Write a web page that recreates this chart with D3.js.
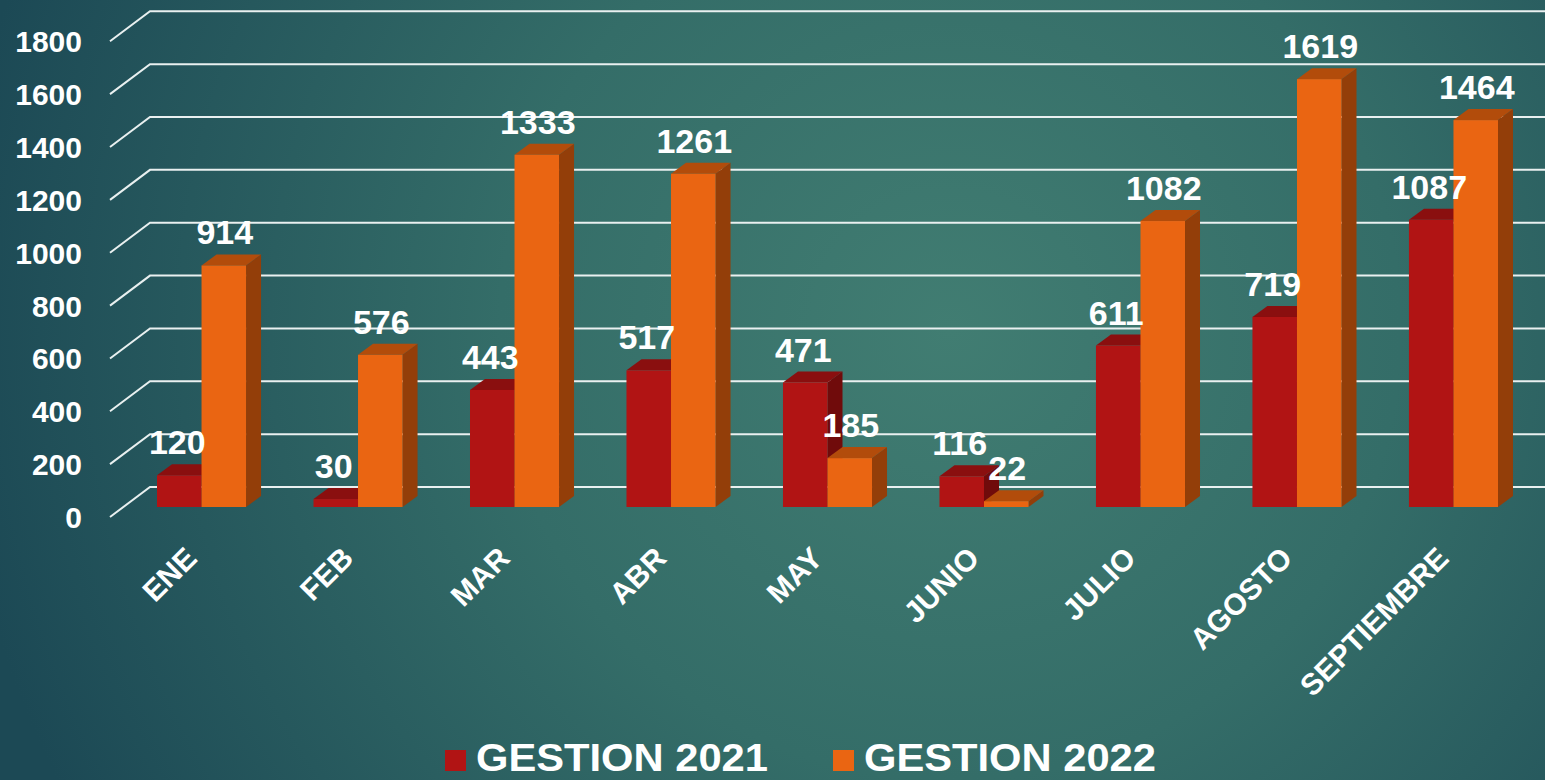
<!DOCTYPE html>
<html>
<head>
<meta charset="utf-8">
<script src="https://cdn.jsdelivr.net/npm/d3@7"></script>
<style>
  html, body { margin: 0; padding: 0; overflow: hidden; }
  svg { display: block; font-family: "Liberation Sans", Arial, sans-serif; font-weight: bold; }
</style>
</head>
<body>
<script>
// data
var months = ["ENE", "FEB", "MAR", "ABR", "MAY", "JUNIO", "JULIO", "AGOSTO", "SEPTIEMBRE"];
var gestion2021 = [120, 30, 443, 517, 471, 116, 611, 719, 1087];
var gestion2022 = [914, 576, 1333, 1261, 185, 22, 1082, 1619, 1464];
var seriesNames = ["GESTION 2021", "GESTION 2022"];
var yTicks = [0, 200, 400, 600, 800, 1000, 1200, 1400, 1600, 1800];

var width = 1545, height = 780;

// colours: front, top, side
var colors = [
    {front: "#b11414", top: "#8a0f0f", side: "#700b0b"},
    {front: "#ea6512", top: "#b24c0b", side: "#933e09"}
];

// depth of the bars and of the floor
var depth = {dx: 15, dy: -11};
var floorFront = {x: 110, dy: 10};
var floorBack = {x: 150, dy: -20};

var svg = d3.select("body").append("svg")
    .attr("width", width)
    .attr("height", height);

// background
var defs = svg.append("defs");
var grad = defs.append("radialGradient")
    .attr("id", "bg")
    .attr("gradientUnits", "userSpaceOnUse")
    .attr("cx", 950).attr("cy", 330).attr("r", 1000);
grad.append("stop").attr("offset", "0%").attr("stop-color", "#417d72");
grad.append("stop").attr("offset", "45%").attr("stop-color", "#346d68");
grad.append("stop").attr("offset", "100%").attr("stop-color", "#1c4955");

svg.append("rect")
    .attr("width", width)
    .attr("height", height)
    .attr("fill", "url(#bg)");

// scales
var x = d3.scaleBand()
    .domain(months)
    .range([123.25, 1531.75])
    .paddingInner(0.431)
    .paddingOuter(0.2157);

var xSub = d3.scaleBand()
    .domain([0, 1])
    .range([0, x.bandwidth()]);

var y = d3.scaleLinear()
    .domain([0, 1800])
    .range([507, 507 - 475.7]);

// gridlines
var grid = svg.append("g").attr("class", "grid");
grid.selectAll("polyline")
    .data(yTicks)
    .enter().append("polyline")
    .attr("points", function(d) {
        return [
            [floorFront.x, y(d) + floorFront.dy],
            [floorBack.x, y(d) + floorBack.dy],
            [width, y(d) + floorBack.dy]
        ].join(" ");
    })
    .attr("fill", "none")
    .attr("stroke", "#e9f0f0")
    .attr("stroke-width", 2);

// y axis labels
svg.append("g")
    .selectAll("text")
    .data(yTicks)
    .enter().append("text")
    .attr("x", 82)
    .attr("y", function(d) { return y(d) + floorFront.dy + 11; })
    .attr("text-anchor", "end")
    .attr("fill", "#ffffff")
    .style("font-size", "30px")
    .text(function(d) { return d; });

// bars
var rows = months.map(function(m, i) {
    return {month: m, values: [gestion2021[i], gestion2022[i]]};
});

var groups = svg.append("g")
    .selectAll("g")
    .data(rows)
    .enter().append("g")
    .attr("transform", function(d) { return "translate(" + x(d.month) + ",0)"; });

groups.each(function(d) {
    var g = d3.select(this);
    d.values.forEach(function(v, s) {
        var x0 = xSub(s), x1 = xSub(s) + xSub.bandwidth();
        var yt = y(v), yb = y(0);
        var c = colors[s];
        // side
        g.append("polygon")
            .attr("points", [[x1, yt], [x1 + depth.dx, yt + depth.dy], [x1 + depth.dx, yb + depth.dy], [x1, yb]].join(" "))
            .attr("fill", c.side);
        // top
        g.append("polygon")
            .attr("points", [[x0, yt], [x0 + depth.dx, yt + depth.dy], [x1 + depth.dx, yt + depth.dy], [x1, yt]].join(" "))
            .attr("fill", c.top);
        // front
        g.append("rect")
            .attr("x", x0)
            .attr("y", yt)
            .attr("width", xSub.bandwidth())
            .attr("height", yb - yt)
            .attr("fill", c.front);
    });
});

// value labels
groups.each(function(d) {
    var g = d3.select(this);
    d.values.forEach(function(v, s) {
        g.append("text")
            .attr("x", xSub(s) + xSub.bandwidth() / 2 + (s === 0 ? -2 : 1))
            .attr("y", y(v) - 21)
            .attr("text-anchor", "middle")
            .attr("fill", "#ffffff")
            .style("font-size", "34px")
            .text(v);
    });
});

// category labels
svg.append("g")
    .selectAll("text")
    .data(months)
    .enter().append("text")
    .attr("transform", function(d) {
        return "translate(" + (x(d) + x.bandwidth() / 2 - 3) + ",560) rotate(-45)";
    })
    .attr("text-anchor", "end")
    .attr("fill", "#ffffff")
    .style("font-size", "30px")
    .text(function(d) { return d; });

// legend
var legendX = [445, 833];
var legend = svg.append("g")
    .selectAll("g")
    .data(seriesNames)
    .enter().append("g")
    .attr("transform", function(d, i) { return "translate(" + legendX[i] + ",0)"; });

legend.append("rect")
    .attr("x", 0)
    .attr("y", 750)
    .attr("width", 21)
    .attr("height", 21)
    .attr("fill", function(d, i) { return colors[i].front; });

legend.append("text")
    .attr("x", 31)
    .attr("y", 771)
    .attr("fill", "#ffffff")
    .attr("textLength", 292)
    .attr("lengthAdjust", "spacingAndGlyphs")
    .style("font-size", "39px")
    .text(function(d) { return d; });
</script>
</body>
</html>
